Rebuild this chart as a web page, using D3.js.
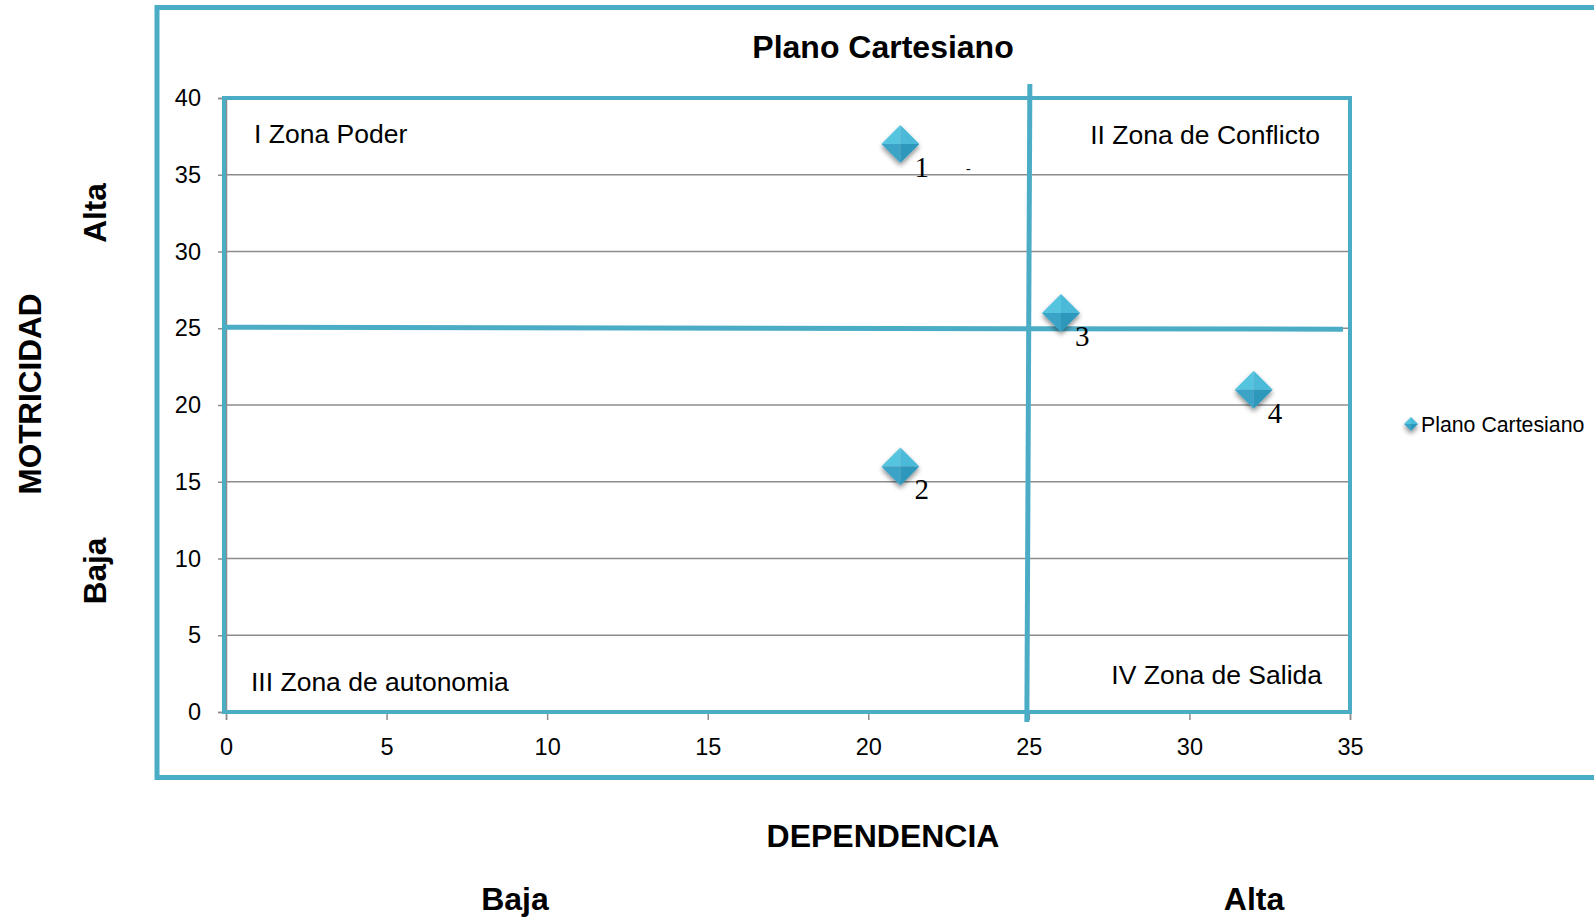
<!DOCTYPE html>
<html>
<head>
<meta charset="utf-8">
<script src="https://cdn.jsdelivr.net/npm/d3@7"></script>
<style>
  body { margin: 0; background: #fff; }
  text { font-family: Arial, "Liberation Sans", sans-serif; }
</style>
</head>
<body>
<div id="chart"></div>
<script>
// data
const xValues = [21, 21, 26, 32];
const yValues = [37, 16, 26, 21];
const pointLabels = ["1", "2", "3", "4"];
const xTicks = [0, 5, 10, 15, 20, 25, 30, 35];
const yTicks = [0, 5, 10, 15, 20, 25, 30, 35, 40];
const zoneNames = ["I Zona Poder", "II Zona de Conflicto", "III Zona de autonomia", "IV Zona de Salida"];
const cutX = 25, cutY = 25;

const width = 1594, height = 920;
const teal = "#4bacc6";

const svg = d3.select("#chart").append("svg")
    .attr("width", width)
    .attr("height", height);

const defs = svg.append("defs");
const f = defs.append("filter").attr("id", "shadow")
    .attr("x", "-50%").attr("y", "-50%").attr("width", "200%").attr("height", "200%");
f.append("feGaussianBlur").attr("in", "SourceAlpha").attr("stdDeviation", 2.5);
f.append("feOffset").attr("dx", 0).attr("dy", 3).attr("result", "b");
f.append("feComponentTransfer").append("feFuncA").attr("type", "linear").attr("slope", 0.45);
const m = f.append("feMerge");
m.append("feMergeNode");
m.append("feMergeNode").attr("in", "SourceGraphic");

// outer frame
svg.append("rect")
    .attr("x", 157).attr("y", 7.5)
    .attr("width", 1460).attr("height", 770)
    .attr("fill", "none").attr("stroke", teal).attr("stroke-width", 5);

const x = d3.scaleLinear().domain([0, 35]).range([226, 1350]);
const y = d3.scaleLinear().domain([0, 40]).range([712, 98]);

// gridlines
svg.append("g")
  .selectAll("line")
  .data(yTicks.filter(d => d > 0))
  .join("line")
    .attr("x1", x(0)).attr("x2", x(35))
    .attr("y1", d => y(d)).attr("y2", d => y(d))
    .attr("stroke", "#8c8c8c").attr("stroke-width", 1.5);

// axes
const yAxis = svg.append("g")
    .attr("transform", `translate(${x(0)},0)`)
    .call(d3.axisLeft(y).tickValues(yTicks).tickSize(8).tickPadding(17));
const xAxis = svg.append("g")
    .attr("transform", `translate(0,${y(0)})`)
    .call(d3.axisBottom(x).tickValues(xTicks).tickSize(8).tickPadding(18));
[xAxis, yAxis].forEach(a => {
  a.selectAll("path, line").attr("stroke", "#8c8c8c").attr("stroke-width", 1.5);
  a.selectAll("text").attr("fill", "#000")
    .style("font-size", "23.5px")
    .style("font-family", "Arial, 'Liberation Sans', sans-serif");
});

// plot area border
svg.append("rect")
    .attr("x", x(0) - 2).attr("y", y(40))
    .attr("width", x(35) - x(0) + 2).attr("height", y(0) - y(40))
    .attr("fill", "none").attr("stroke", teal).attr("stroke-width", 4);

// quadrant lines
svg.append("line")
    .attr("x1", x(cutX) + 1).attr("y1", 84)
    .attr("x2", x(cutX) - 2).attr("y2", 722)
    .attr("stroke", teal).attr("stroke-width", 5);
svg.append("line")
    .attr("x1", x(0) - 4).attr("y1", y(cutY) - 1)
    .attr("x2", 1343).attr("y2", y(cutY) + 1)
    .attr("stroke", teal).attr("stroke-width", 5);

// zone labels
const zonePos = [
  {x: 254, y: 143, a: "start"},
  {x: 1320, y: 144, a: "end"},
  {x: 251, y: 691, a: "start"},
  {x: 1322, y: 684, a: "end"}
];
svg.append("g").selectAll("text")
  .data(zoneNames)
  .join("text")
    .attr("x", (d, i) => zonePos[i].x)
    .attr("y", (d, i) => zonePos[i].y)
    .attr("text-anchor", (d, i) => zonePos[i].a)
    .attr("font-size", 26.5)
    .text(d => d);

// diamond markers
function diamond(r) {
  return {
    tl: `M${-r},0L0,${-r}L0,0Z`,
    tr: `M0,${-r}L${r},0L0,0Z`,
    bl: `M${-r},0L0,${r}L0,0Z`,
    br: `M${r},0L0,${r}L0,0Z`
  };
}
function drawMarker(g, r) {
  const d = diamond(r);
  const w = g.append("g").attr("filter", "url(#shadow)");
  w.append("path").attr("d", d.tl).attr("fill", "#55c4df");
  w.append("path").attr("d", d.tr).attr("fill", "#4bbad8");
  w.append("path").attr("d", d.bl).attr("fill", "#3aa4c6");
  w.append("path").attr("d", d.br).attr("fill", "#2f98bc");
}

const pts = svg.append("g").selectAll("g")
  .data(xValues.map((v, i) => ({x: v, y: yValues[i], label: pointLabels[i]})))
  .join("g")
    .attr("transform", d => `translate(${x(d.x)},${y(d.y)})`);
pts.each(function() { drawMarker(d3.select(this), 19); });
pts.append("text")
    .attr("x", 14).attr("y", 33)
    .style("font-family", "'Liberation Serif', 'DejaVu Serif', serif")
    .style("font-size", "29px")
    .text(d => d.label);

// stray mark next to label 1
svg.append("text")
    .attr("x", 966).attr("y", 173)
    .style("font-family", "'Liberation Serif', serif")
    .style("font-size", "14px")
    .text("-");

// title
svg.append("text")
    .attr("x", 883).attr("y", 58)
    .attr("text-anchor", "middle")
    .attr("font-size", 32).attr("font-weight", "bold")
    .text("Plano Cartesiano");

// legend
const lg = svg.append("g").attr("transform", "translate(1411,424)");
drawMarker(lg, 7);
lg.append("text")
    .attr("x", 10).attr("y", 8)
    .attr("font-size", 21.3)
    .text("Plano Cartesiano");

// axis titles
svg.append("text")
    .attr("x", 883).attr("y", 847)
    .attr("text-anchor", "middle")
    .attr("font-size", 32).attr("font-weight", "bold")
    .text("DEPENDENCIA");
svg.append("text")
    .attr("x", 515).attr("y", 910)
    .attr("text-anchor", "middle")
    .attr("font-size", 32).attr("font-weight", "bold")
    .text("Baja");
svg.append("text")
    .attr("x", 1254).attr("y", 910)
    .attr("text-anchor", "middle")
    .attr("font-size", 32).attr("font-weight", "bold")
    .text("Alta");

const vTitles = [
  {t: "MOTRICIDAD", x: 41, y: 394},
  {t: "Alta", x: 106, y: 213},
  {t: "Baja", x: 106, y: 571}
];
svg.append("g").selectAll("text")
  .data(vTitles)
  .join("text")
    .attr("transform", d => `translate(${d.x},${d.y}) rotate(-90)`)
    .attr("text-anchor", "middle")
    .attr("font-size", 31.5).attr("font-weight", "bold")
    .text(d => d.t);
</script>
</body>
</html>
